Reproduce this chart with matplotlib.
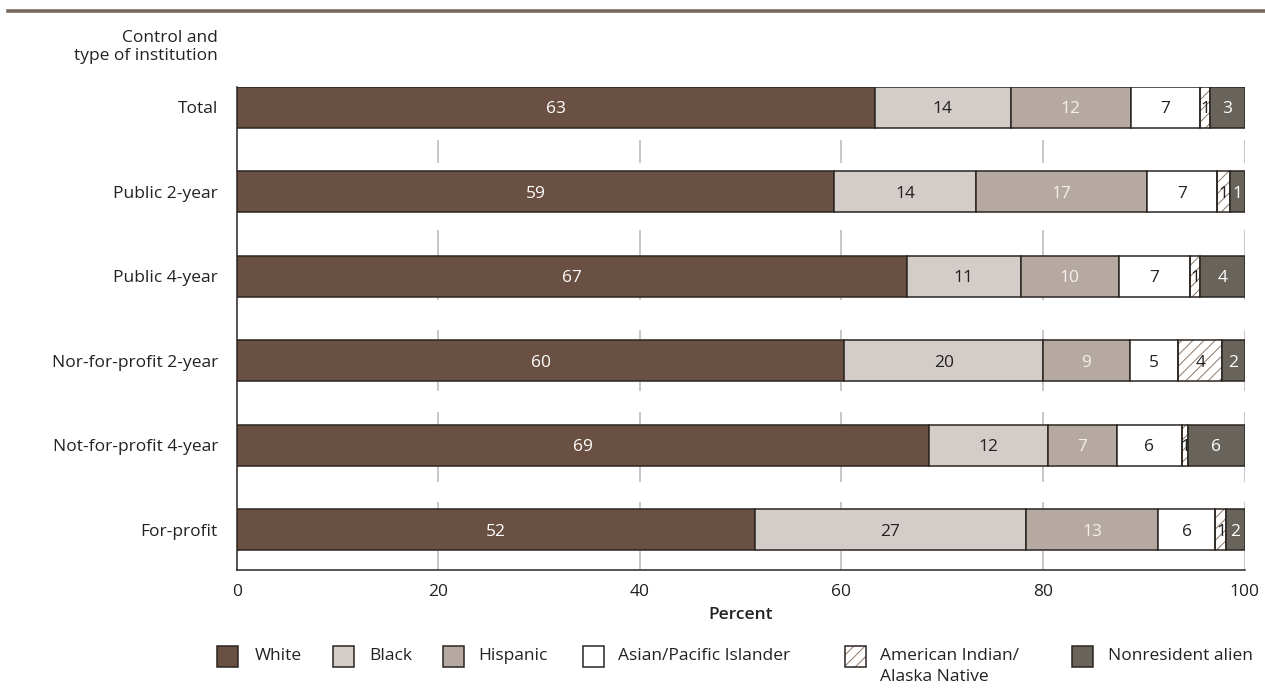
import numpy as np
import matplotlib
matplotlib.use("Agg")
import matplotlib.pyplot as plt
from matplotlib.patches import Rectangle

plt.rcParams['font.family'] = ['Open Sans', 'DejaVu Sans']
plt.rcParams['hatch.linewidth'] = 0.7

# Данные
categories = ["Total", "Public 2-year", "Public 4-year", "Nor-for-profit 2-year",
              "Not-for-profit 4-year", "For-profit"]
groups = ["White", "Black", "Hispanic", "Asian/Pacific Islander",
          "American Indian/\nAlaska Native", "Nonresident alien"]

white    = [63.3, 59.3, 66.5, 60.3, 68.7, 51.4]
black    = [13.5, 14.0, 11.3, 19.7, 11.8, 26.9]
hispanic = [11.9, 17.0, 9.7, 8.6, 6.8, 13.1]
asian    = [6.9, 7.0, 7.1, 4.8, 6.5, 5.7]
amind    = [1.0, 1.2, 1.0, 4.4, 0.6, 1.1]
nonres   = [3.4, 1.5, 4.4, 2.2, 5.6, 1.8]

white_lbl    = [63, 59, 67, 60, 69, 52]
black_lbl    = [14, 14, 11, 20, 12, 27]
hispanic_lbl = [12, 17, 10, 9, 7, 13]
asian_lbl    = [7, 7, 7, 5, 6, 6]
amind_lbl    = [1, 1, 1, 4, 1, 1]
nonres_lbl   = [3, 1, 4, 2, 6, 2]

xticks = [0, 20, 40, 60, 80, 100]

series = [white, black, hispanic, asian, amind, nonres]
labels = [white_lbl, black_lbl, hispanic_lbl, asian_lbl, amind_lbl, nonres_lbl]
colors = ['#6a5042', '#d3ccc8', '#b5a9a1', '#ffffff', '#ffffff', '#68635b']
txtcol = ['white', '#222222', '#f4f0ed', '#222222', '#222222', 'white']
hatches = [None, None, None, None, '///', None]
edge = '#2b2520'
fs = 12.5

fig = plt.figure(figsize=(12.65, 6.9), dpi=100)
ax = fig.add_axes([0.1871, 0.174, 0.7968, 0.700])

y = np.arange(len(categories))
h = 0.485
left = np.zeros(len(categories))
for vals, lbls, c, tc, hat in zip(series, labels, colors, txtcol, hatches):
    vals = np.array(vals)
    if hat:
        ax.barh(y, vals, h, left=left, color=c, edgecolor='#8c7868', hatch=hat,
                linewidth=0, zorder=2)
        ax.barh(y, vals, h, left=left, fill=False, edgecolor=edge, linewidth=1.1, zorder=3)
    else:
        ax.barh(y, vals, h, left=left, color=c, edgecolor=edge, linewidth=1.1, zorder=3)
    for yi, l, v, t in zip(y, left, vals, lbls):
        ax.text(l + v / 2, yi + 0.02, str(t), ha='center', va='center', color=tc,
                fontsize=fs, zorder=4)
    left = left + vals

# прерывистая сетка между столбцами
grid_segs = [(0.385, 0.657), (1.45, 1.757), (2.243, 2.278), (2.633, 2.757),
             (3.243, 3.355), (3.604, 3.757), (4.243, 4.432), (4.669, 4.757),
             (5.243, 5.48)]
for gx in xticks[1:]:
    for a, b in grid_segs:
        ax.plot([gx, gx], [a, b], color='#bdbdbd', linewidth=1.2, zorder=1,
                solid_capstyle='butt')

ax.set_xlim(0, 100)
ax.set_ylim(5.473, -0.243)
ax.set_yticks(y)
ax.set_yticklabels(categories, fontsize=fs, color='#222222')
ax.set_xticks(xticks)
ax.set_xticklabels([str(t) for t in xticks], fontsize=fs, color='#222222')
ax.tick_params(axis='y', length=0, pad=13.5)
ax.tick_params(axis='x', length=0, pad=10)
ax.set_xlabel("Percent", fontsize=fs, fontweight='semibold', color='#222222', labelpad=5)
for s in ['top', 'right']:
    ax.spines[s].set_visible(False)
for s in ['left', 'bottom']:
    ax.spines[s].set_color(edge)
    ax.spines[s].set_linewidth(1.1)

fig.text(218 / 1265, 1 - 47 / 690, "Control and\ntype of institution", ha='right',
         va='center', fontsize=fs, color='#222222', linespacing=1.2)

# верхняя линия
fig.add_artist(plt.Line2D([8 / 1265, 1], [1 - 10.5 / 690] * 2, color='#7a6a5e',
                          linewidth=2.6))

# легенда
patch_x = [217, 333, 443, 583, 845, 1072]
text_x = [255, 369, 478, 618, 880, 1108]
ly = 656
W, H = fig.get_size_inches() * fig.dpi
for px, tx, g, c, hat in zip(patch_x, text_x, groups, colors, hatches):
    r = Rectangle((px / W, 1 - (ly + 11) / H), 21 / W, 21 / H, transform=fig.transFigure,
                  facecolor=c, edgecolor=edge, linewidth=1.1)
    if hat:
        r2 = Rectangle((px / W, 1 - (ly + 11) / H), 21 / W, 21 / H, transform=fig.transFigure,
                       facecolor=c, edgecolor='#8c7868', hatch=hat, linewidth=0)
        fig.add_artist(r2)
        r.set_fill(False)
    fig.add_artist(r)
    fig.text(tx / W, 1 - (ly - 8) / H, g, ha='left', va='top', fontsize=fs,
             color='#222222', linespacing=1.4)

fig.savefig("out.png", dpi=100)
